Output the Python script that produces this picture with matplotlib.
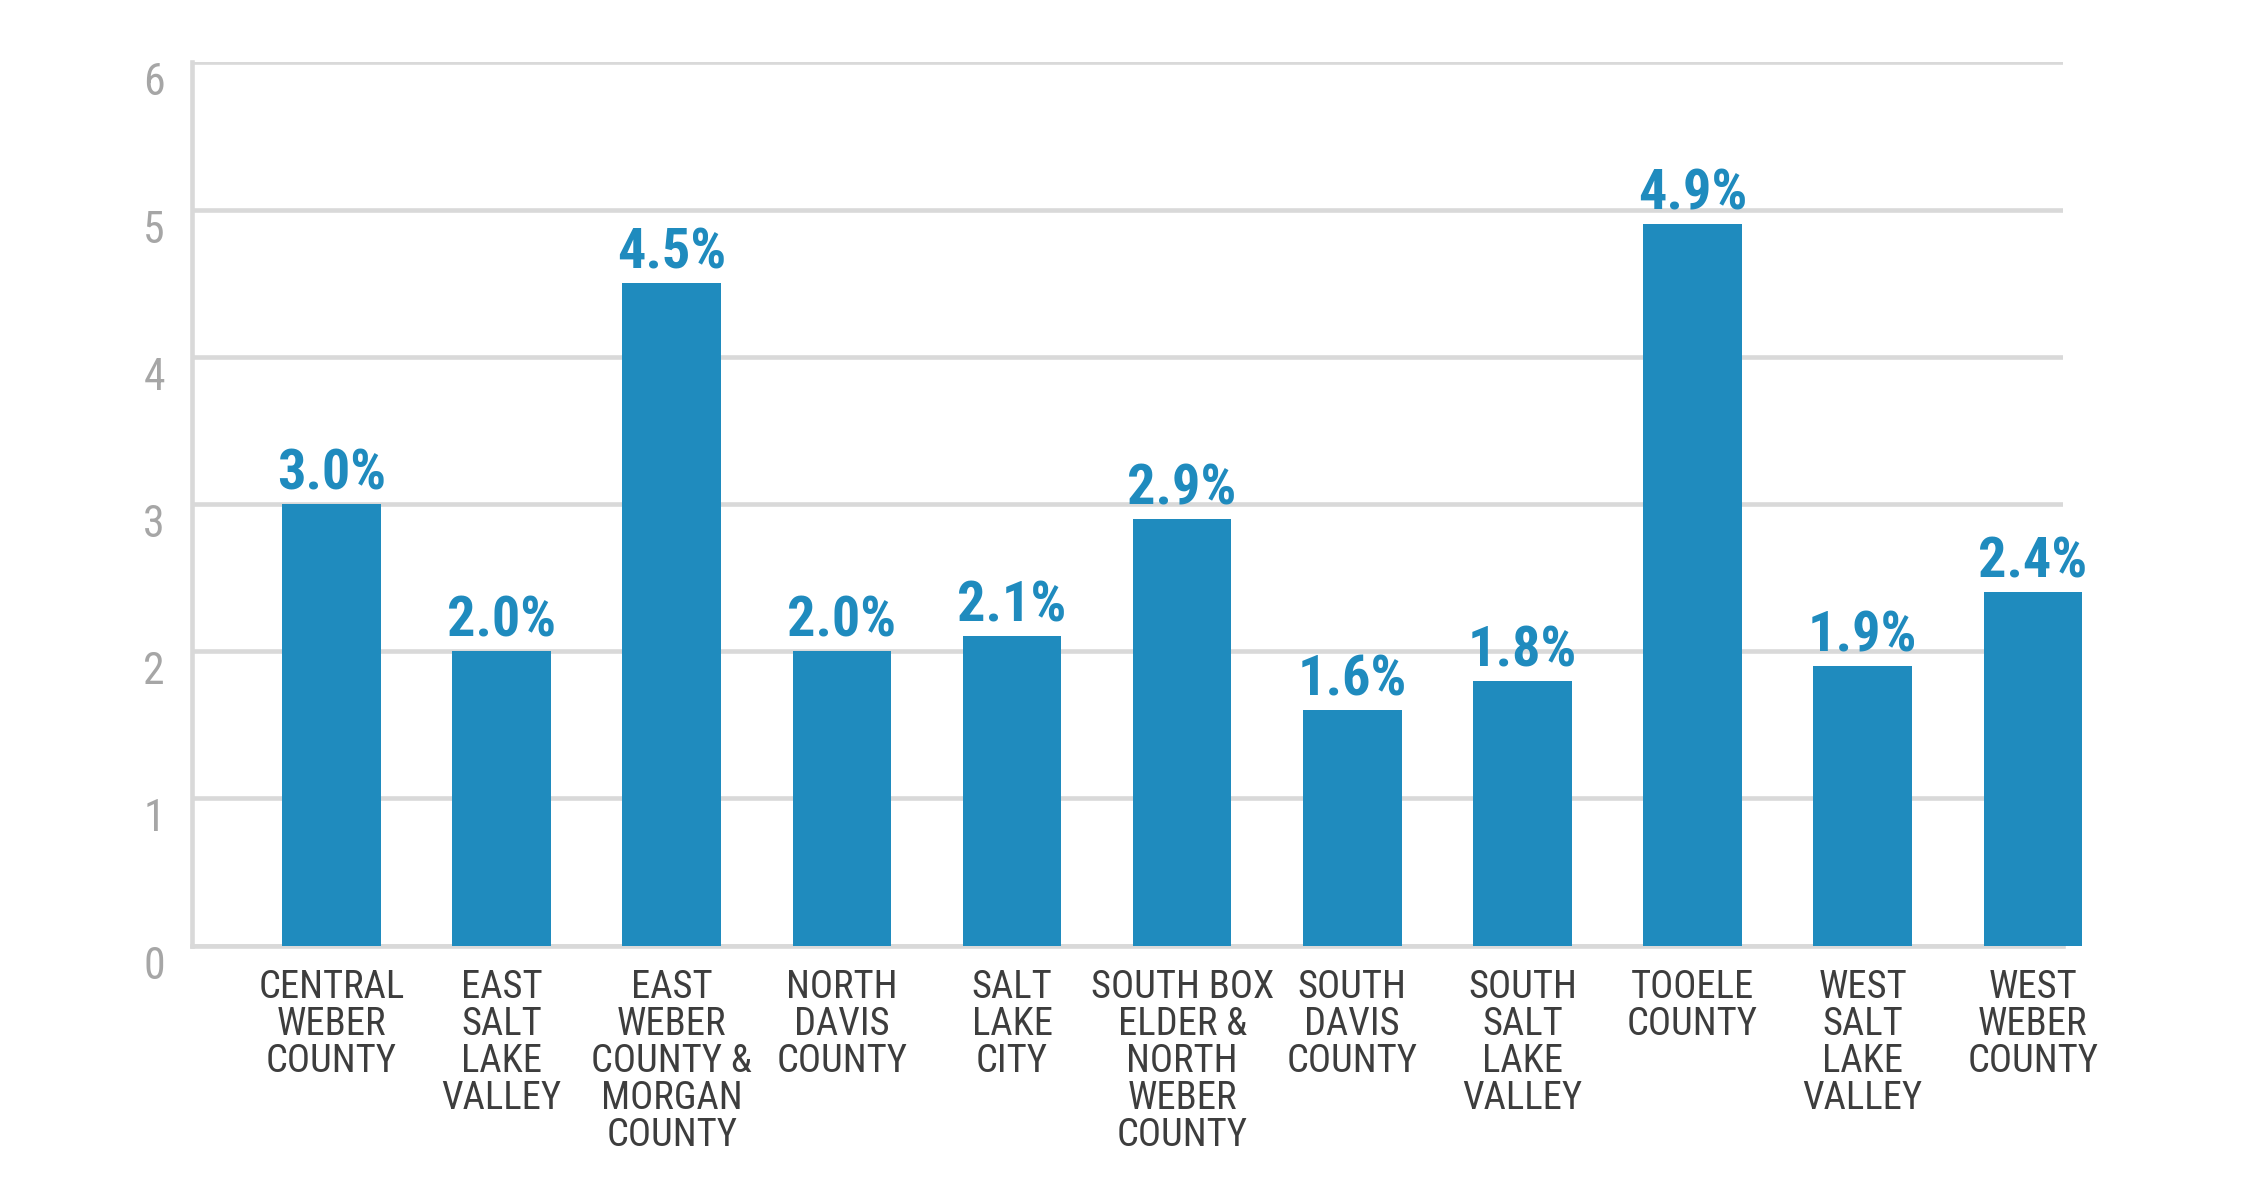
import matplotlib
matplotlib.use("Agg")
import matplotlib.pyplot as plt

categories = [
    "CENTRAL\nWEBER\nCOUNTY",
    "EAST\nSALT\nLAKE\nVALLEY",
    "EAST\nWEBER\nCOUNTY &\nMORGAN\nCOUNTY",
    "NORTH\nDAVIS\nCOUNTY",
    "SALT\nLAKE\nCITY",
    "SOUTH BOX\nELDER &\nNORTH\nWEBER\nCOUNTY",
    "SOUTH\nDAVIS\nCOUNTY",
    "SOUTH\nSALT\nLAKE\nVALLEY",
    "TOOELE\nCOUNTY",
    "WEST\nSALT\nLAKE\nVALLEY",
    "WEST\nWEBER\nCOUNTY",
]
values = [3.0, 2.0, 4.5, 2.0, 2.1, 2.9, 1.6, 1.8, 4.9, 1.9, 2.4]
yticks = [0, 1, 2, 3, 4, 5, 6]

FAM = ["Liberation Sans Narrow", "Roboto Condensed", "DejaVu Sans"]
BAR = "#1f8bbe"
GRID = "#d9d9d9"

fig = plt.figure(figsize=(15, 8), dpi=150)
ax = fig.add_axes([0.0853, 0.212, 0.8318, 0.736])

x = list(range(len(values)))
bars = ax.bar(x, values, width=0.58, color=BAR, zorder=3)
for b in bars:
    b.set_clip_on(False)

for xi, v in zip(x, values):
    ax.annotate(f"{v:.1f}%", (xi, v), xytext=(0, 7), textcoords="offset points",
                ha="center", va="baseline", fontsize=27, fontweight="bold",
                fontstretch="condensed", color=BAR, family=FAM)

ax.set_xlim(-0.82, 10.18)
ax.set_ylim(0, 6)
ax.set_yticks(yticks)
ax.set_yticklabels([str(t) for t in yticks], family=FAM, fontsize=21,
                   fontstretch="condensed", color="#a6a6a6")
for t in ax.get_yticklabels():
    t.set_va("top")
ax.set_xticks(x)
ax.set_xticklabels(categories, family=FAM, fontsize=18.5, color="#3d3d3d",
                   fontstretch="condensed", linespacing=1.0, va="top", ha="center")
ax.tick_params(axis="both", length=0)
ax.tick_params(axis="x", pad=11)
ax.tick_params(axis="y", pad=13)

ax.grid(axis="y", color=GRID, linewidth=2.2, zorder=0)
ax.set_axisbelow(True)
for s in ["top", "right"]:
    ax.spines[s].set_visible(False)
for s in ["left", "bottom"]:
    ax.spines[s].set_color(GRID)
    ax.spines[s].set_linewidth(2.2)

fig.savefig("out.png", dpi=150, facecolor="white")
